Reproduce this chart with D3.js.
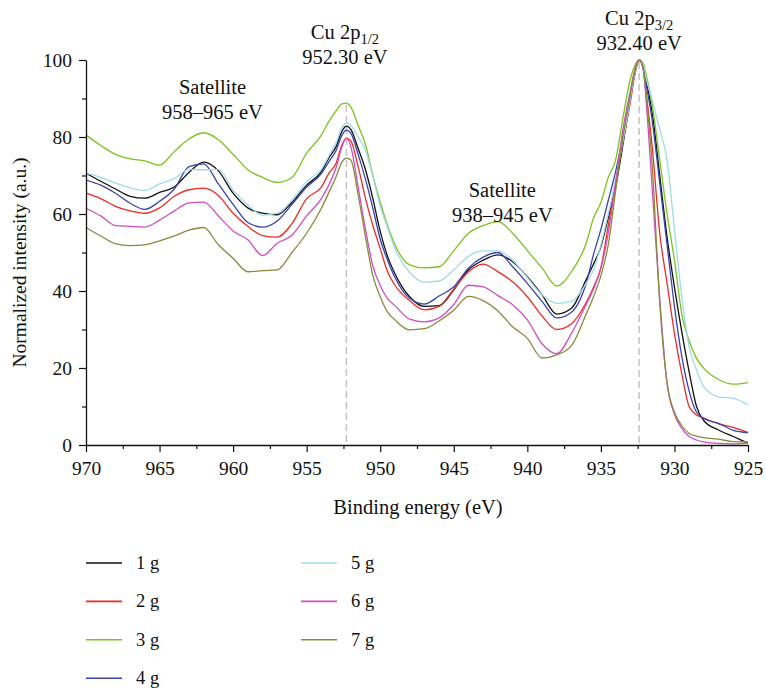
<!DOCTYPE html>
<html>
<head>
<meta charset="utf-8">
<script src="https://cdn.jsdelivr.net/npm/d3@7"></script>
<style>
    body { margin: 0; background: #fff; }
    svg { font-family: "Liberation Serif", "DejaVu Serif", serif; }
</style>
</head>
<body>
<div id="chart"></div>
<script>
// binding energies (eV) shared by all spectra
const energies = [
    970, 969, 968, 967, 966, 965, 964, 963, 962, 961, 960, 959, 958, 957, 956, 955,
    954, 953.5, 953, 952.6, 952.3, 952, 951.5, 951, 950.5, 950, 949.5, 949,
    948, 947, 946, 945, 944, 943, 942, 941, 940, 939, 938, 937, 936,
    935.5, 935, 934.5, 934, 933.5, 933, 932.7, 932.4, 932.1, 932, 931.5, 931, 930.5, 930, 929.5, 929, 928.5, 928,
    927, 926, 925
];

// normalized intensities
const intensity1g = [
    70.6, 68.5, 66.5, 64.6, 64.1, 65.6, 67, 70.8, 73.5, 71.2, 65.4, 61.6, 60.2, 59.8, 63, 67.5,
    71, 74.5, 77.5, 81.5, 82.8, 82, 77, 71.5, 64, 55.5, 49, 44.5,
    38.5, 36, 36.2, 40.3, 45.5, 48, 49.4, 47.6, 43.7, 39, 34, 35.5, 43,
    47, 51.5, 59, 67, 78, 90, 96.5, 100, 98, 96, 86, 70, 54, 41, 29.4, 19, 10, 6.3,
    3.9, 2.2, 0.5
];
const intensity2g = [
    65.4, 64, 62, 60.8, 60.2, 61.6, 64.6, 66.3, 66.7, 64.8, 60.2, 56.8, 54.4, 54, 57.5, 64,
    67, 70.5, 73.2, 78, 79.7, 79, 72.3, 64, 57, 51, 45, 41.5,
    37.5, 35.1, 36, 40.5, 45, 47, 45, 42.4, 38.5, 33.5, 30, 31.5, 37,
    41, 46, 57, 68, 79, 89, 96, 100, 97.5, 94, 77, 55, 42, 29, 18.5, 10, 7.8, 7,
    5.5, 4.6, 3.2
];
const intensity3g = [
    80.5, 77.8, 75.5, 74.3, 73.8, 72.7, 76.2, 79.5, 81.1, 79.3, 75.5, 71.5, 69.5, 68.2, 69.5, 75.8,
    80.5, 84, 86.8, 88.6, 88.8, 87.8, 83, 78, 70, 63, 57, 52,
    46.8, 46, 46.3, 50.5, 55, 57, 58, 55, 50.5, 46, 41.3, 45, 52.4,
    59, 63, 69.5, 74, 85, 95, 98.5, 100, 99, 97.5, 88, 74, 60, 48, 34, 27, 22.5, 19.9,
    17, 15.8, 16.2
];
const intensity4g = [
    68.8, 67.5, 65.4, 62.8, 61.2, 63.3, 66.5, 72.3, 73, 67.8, 62.5, 57.8, 56.6, 58.2, 62.5, 67,
    70.5, 73.5, 76.5, 80.5, 81.8, 81, 75.5, 69, 61.5, 53.5, 48, 43.5,
    38.1, 36.6, 38.7, 41.1, 46, 48.8, 50, 46.3, 42, 37.3, 33, 34.5, 42,
    49.5, 56, 63.5, 71, 80, 90, 96.5, 100, 98, 95.5, 84, 68, 52, 36, 23, 14, 8.5, 6.9,
    5.6, 3.8, 3.2
];
const intensity5g = [
    70.6, 69.5, 68, 66.8, 66.1, 67.8, 69.2, 71.6, 71.5, 71.6, 66.2, 62.4, 59.7, 60.2, 63.6, 68.4,
    71.6, 75, 78.5, 82.5, 83.6, 83, 80, 76.5, 69.7, 62, 56.5, 51,
    44.8, 42.3, 42.6, 45.5, 49, 50.4, 50.4, 48, 43.5, 39, 36.8, 37.3, 42,
    45.5, 52, 60, 69, 79, 90, 96.5, 100, 98.5, 96.5, 89.5, 82, 74, 56, 38.5, 25.5, 19.5, 15.1,
    12.5, 12.1, 10.4
];
const intensity6g = [
    61.5, 59.5, 57, 56.8, 56.6, 58.4, 60.8, 62.9, 63.1, 59.5, 55.6, 53.3, 49.2, 52.4, 54.5, 59.5,
    64, 67.5, 72, 77.5, 79.7, 77.5, 67, 56, 46.5, 41.5, 38, 36.2,
    32.7, 32, 33, 36.5, 41.5, 41.1, 38.8, 36.4, 32.5, 26.3, 23.7, 29, 36.5,
    40.5, 46, 55, 68, 82, 92, 97.5, 100, 97, 93, 66, 38, 16, 8, 4.3, 2.2, 1.3, 0.8,
    0.4, 0.3, 0.5
];
const intensity7g = [
    56.5, 54.3, 52.3, 51.8, 52, 53, 54.3, 55.8, 56.5, 52, 48.5, 45, 45.3, 45.5, 50, 55,
    61.5, 65.5, 69.7, 73.5, 74.5, 74, 65, 54, 44, 38.5, 34.5, 32.5,
    29.9, 30.2, 32.2, 35, 38.6, 37.5, 34.8, 30.7, 27.7, 22.6, 23.4, 25.8, 34,
    38.5, 44, 52, 66, 80, 91, 97, 100, 97.5, 94, 72, 37, 16, 8.5, 5, 3, 2.3, 1.9,
    1.5, 0.9, 0.8
];

const seriesNames = ["1 g", "2 g", "3 g", "4 g", "5 g", "6 g", "7 g"];
const seriesColors = ["#111111", "#ee2b24", "#78c51c", "#3a44ac", "#9fdbe9", "#cf4fc1", "#8b893b"];
const allIntensities = [intensity1g, intensity2g, intensity3g, intensity4g, intensity5g, intensity6g, intensity7g];

const xTicks = [970, 965, 960, 955, 950, 945, 940, 935, 930, 925];
const xMinorTicks = [967.5, 962.5, 957.5, 952.5, 947.5, 942.5, 937.5, 932.5, 927.5];
const yTicks = [0, 20, 40, 60, 80, 100];
const yMinorTicks = [10, 30, 50, 70, 90];
const peakEnergies = [952.3, 932.4];


class XpsChartBuilder {
    constructor(container, width, height, margin) {
        this.container = container;
        this.width = width;
        this.height = height;
        this.margin = margin;
        this.innerWidth = width - margin.left - margin.right;
        this.innerHeight = height - margin.top - margin.bottom;
        this.svg = null;
        this.plot = null;
        this.setUpSVG();
        this.setUpScales();
    }

    setUpSVG() {
        this.svg = this.container
            .append("svg")
            .attr("width", this.width)
            .attr("height", this.height);
        this.plot = this.svg.append("g")
            .attr("transform", `translate(${this.margin.left},${this.margin.top})`);
    }

    setUpScales() {
        this.x = d3.scaleLinear().domain([970, 925]).range([0, this.innerWidth]);
        this.y = d3.scaleLinear().domain([0, 100]).range([this.innerHeight, 0]);
    }

    draw() {
        this.drawPeakLines();
        this.drawSpectra();
        this.drawAxes();
        this.drawAnnotations();
        this.drawLegend();
    }

    // dashed guide lines under the two main peaks
    drawPeakLines() {
        peakEnergies.forEach(e => {
            const idx = energies.indexOf(e);
            const top = d3.max(allIntensities, s => s[idx]);
            this.plot.append("line")
                .attr("x1", this.x(e)).attr("x2", this.x(e))
                .attr("y1", this.y(top) + 2).attr("y2", this.y(0))
                .attr("stroke", "#c4c4c4")
                .attr("stroke-width", 1.5)
                .attr("stroke-dasharray", "7,4");
        });
    }

    drawSpectra() {
        const line = d3.line()
            .x(d => this.x(d[0]))
            .y(d => this.y(d[1]))
            .curve(d3.curveMonotoneX);

        this.plot.append("g")
            .attr("class", "spectra")
            .selectAll("path")
            .data(allIntensities)
            .enter().append("path")
            .attr("d", s => line(s.map((v, i) => [energies[i], v])))
            .attr("fill", "none")
            .attr("stroke", (s, i) => seriesColors[i])
            .attr("stroke-width", 1.3)
            .attr("stroke-linejoin", "round");
    }

    drawAxes() {
        const xAxis = this.plot.append("g")
            .attr("transform", `translate(0,${this.innerHeight})`)
            .call(d3.axisBottom(this.x).tickValues(xTicks).tickSize(7).tickSizeOuter(0).tickPadding(9));
        this.plot.append("g")
            .attr("transform", `translate(0,${this.innerHeight})`)
            .call(d3.axisBottom(this.x).tickValues(xMinorTicks).tickSize(4).tickFormat(""))
            .select(".domain").remove();

        const yAxis = this.plot.append("g")
            .call(d3.axisLeft(this.y).tickValues(yTicks).tickSize(7).tickSizeOuter(0).tickPadding(7));
        this.plot.append("g")
            .call(d3.axisLeft(this.y).tickValues(yMinorTicks).tickSize(4).tickFormat(""))
            .select(".domain").remove();

        this.plot.selectAll(".domain").attr("stroke", "#111").attr("stroke-width", 1.3);
        this.plot.selectAll(".tick line").attr("stroke", "#111").attr("stroke-width", 1.2);
        [xAxis, yAxis].forEach(a => a.selectAll("text")
            .attr("font-size", 19.5)
            .attr("font-family", "Liberation Serif, DejaVu Serif, serif")
            .attr("fill", "#111"));

        // axis titles
        this.svg.append("text")
            .attr("x", 418)
            .attr("y", 514)
            .attr("text-anchor", "middle")
            .attr("font-size", 20.5)
            .attr("fill", "#111")
            .text("Binding energy (eV)");

        this.svg.append("text")
            .attr("transform", `translate(26,${this.margin.top + this.innerHeight / 2 + 10}) rotate(-90)`)
            .attr("text-anchor", "middle")
            .attr("font-size", 19.5)
            .attr("fill", "#111")
            .text("Normalized intensity (a.u.)");
    }

    // two-line labels above peaks; first line may carry a subscript
    addLabel(energy, baseline, main, sub, second) {
        const t = this.svg.append("text")
            .attr("x", this.margin.left + this.x(energy))
            .attr("y", baseline)
            .attr("text-anchor", "middle")
            .attr("font-size", 20.5)
            .attr("fill", "#111");
        t.append("tspan").text(main);
        if (sub) {
            t.append("tspan").attr("font-size", 14.5).attr("dy", 5).text(sub);
        }
        this.svg.append("text")
            .attr("x", this.margin.left + this.x(energy))
            .attr("y", baseline + 25)
            .attr("text-anchor", "middle")
            .attr("font-size", 20.5)
            .attr("fill", "#111")
            .text(second);
    }

    drawAnnotations() {
        this.addLabel(961.4, 94, "Satellite", null, "958–965 eV");
        this.addLabel(952.4, 39, "Cu 2p", "1/2", "952.30 eV");
        this.addLabel(941.7, 197, "Satellite", null, "938–945 eV");
        this.addLabel(932.4, 25, "Cu 2p", "3/2", "932.40 eV");
    }

    drawLegend() {
        const legend = this.svg.append("g").attr("class", "legend");
        const items = legend.selectAll("g")
            .data(seriesNames)
            .enter().append("g")
            .attr("transform", (d, i) => {
                const col = i < 4 ? 0 : 1;
                const row = i < 4 ? i : i - 4;
                return `translate(${86 + col * 215},${563 + row * 38.4})`;
            });
        items.append("line")
            .attr("x1", 0).attr("x2", 36)
            .attr("stroke", (d, i) => seriesColors[i])
            .attr("stroke-width", 1.6);
        items.append("text")
            .attr("x", 50)
            .attr("y", 6)
            .attr("font-size", 18.5)
            .attr("fill", "#111")
            .text(d => d);
    }
}

const chart = new XpsChartBuilder(d3.select("#chart"), 766, 688, {top: 60, right: 18, bottom: 243, left: 86});
chart.draw();
</script>
</body>
</html>
